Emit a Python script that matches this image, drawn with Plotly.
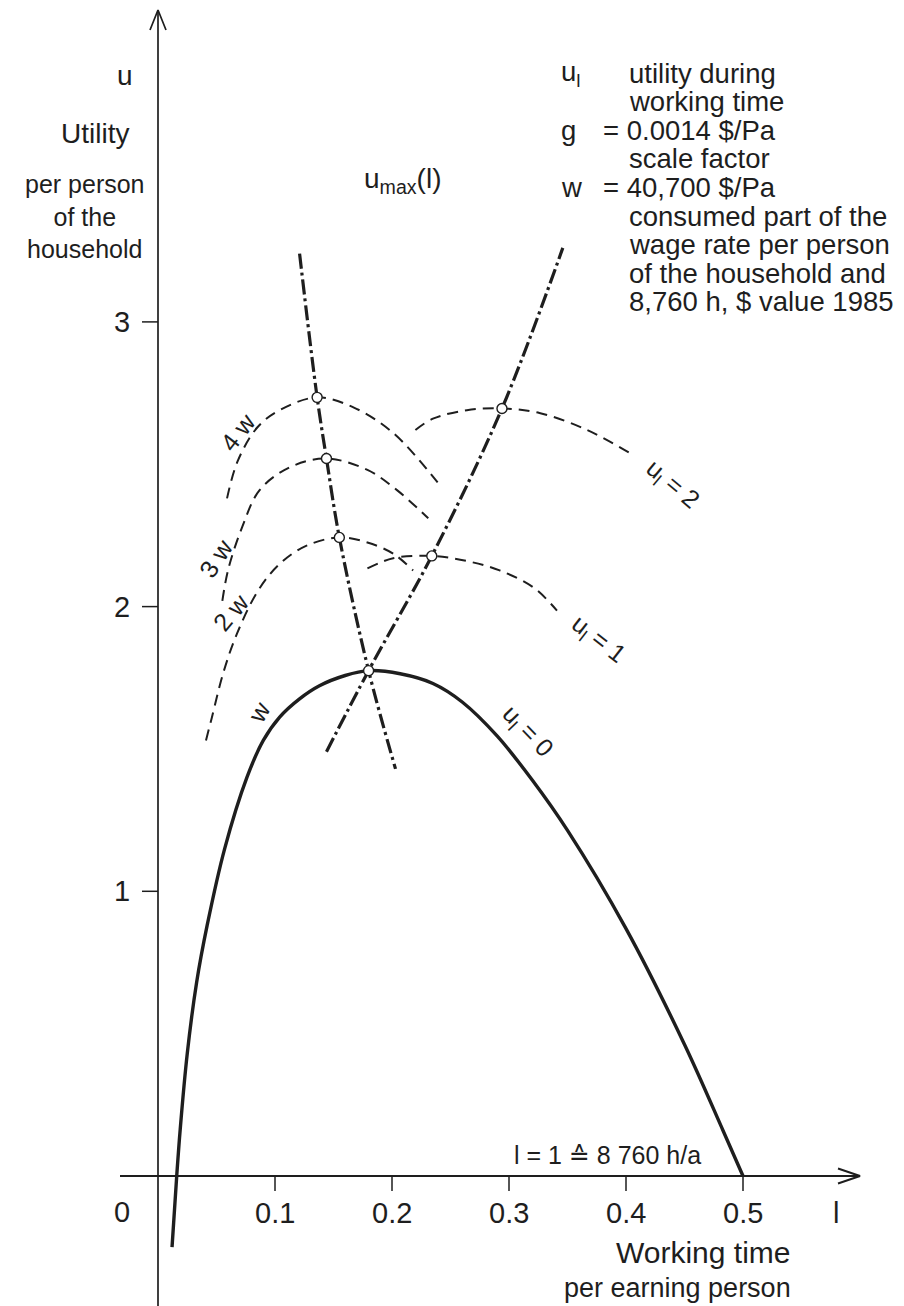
import plotly.graph_objects as go

# ---------------- data ----------------
x_ticks = [0.1, 0.2, 0.3, 0.4, 0.5]
x_tick_labels = ["0.1", "0.2", "0.3", "0.4", "0.5"]
y_ticks = [1, 2, 3]
y_tick_labels = ["1", "2", "3"]

# u_l = 0, wage rate w (solid)
w_l = [0.012, 0.016, 0.019, 0.025, 0.033, 0.042, 0.057, 0.076, 0.090, 0.104, 0.121, 0.138,
       0.160, 0.180, 0.207, 0.235, 0.260, 0.290, 0.320, 0.350, 0.400, 0.450, 0.483, 0.500]
w_u = [-0.25, 0.0, 0.165, 0.43, 0.68, 0.88, 1.15, 1.40, 1.53, 1.612, 1.676, 1.722,
       1.758, 1.775, 1.764, 1.73, 1.665, 1.545, 1.39, 1.214, 0.869, 0.462, 0.159, 0.0]

# 2w, 3w, 4w (dashed)
w2_l = [0.041, 0.046, 0.056, 0.0675, 0.0855, 0.104, 0.127, 0.155, 0.179, 0.201, 0.218]
w2_u = [1.53, 1.61, 1.77, 1.905, 2.056, 2.15, 2.214, 2.243, 2.225, 2.186, 2.127]
w3_l = [0.055, 0.060, 0.072, 0.087, 0.113, 0.144, 0.179, 0.204, 0.231]
w3_u = [2.02, 2.13, 2.28, 2.41, 2.49, 2.52, 2.48, 2.41, 2.31]
w4_l = [0.059, 0.068, 0.085, 0.104, 0.136, 0.167, 0.201, 0.239]
w4_u = [2.38, 2.51, 2.63, 2.69, 2.735, 2.70, 2.61, 2.436]

# u_l = 1, u_l = 2 (dashed)
ul1_l = [0.179, 0.201, 0.234, 0.264, 0.292, 0.321, 0.341]
ul1_u = [2.134, 2.17, 2.178, 2.16, 2.127, 2.067, 1.986]
ul2_l = [0.220, 0.235, 0.264, 0.294, 0.326, 0.367, 0.403]
ul2_u = [2.62, 2.66, 2.69, 2.696, 2.68, 2.62, 2.54]

# loci (dash-dot)
umax_l = [0.121, 0.136, 0.144, 0.155, 0.180, 0.203]
umax_u = [3.24, 2.735, 2.52, 2.243, 1.775, 1.43]
opt_l = [0.144, 0.180, 0.234, 0.294, 0.346]
opt_u = [1.49, 1.775, 2.178, 2.696, 3.26]

# marked optima (circles)
pts_l = [0.136, 0.144, 0.155, 0.180, 0.234, 0.294]
pts_u = [2.735, 2.52, 2.243, 1.775, 2.178, 2.696]

# ---------------- geometry ----------------
W, H = 904, 1306
X0_PX, X_SC = 158.0, 1170.0
Y0_PX, Y_SC = 1176.0, 284.7
def dx(px):
    return px / X_SC
def dy(px):
    return px / Y_SC
x_range = [(0 - X0_PX) / X_SC, (W - X0_PX) / X_SC]
y_range = [(Y0_PX - H) / Y_SC, Y0_PX / Y_SC]

x_axis_end = 0.6
y_axis_end = (Y0_PX - 10) / Y_SC

INK = "#1e1e1e"
FONT = "Liberation Sans, Arial, DejaVu Sans, sans-serif"

fig = go.Figure()

def line(x, y, width, dash="solid", shape="linear", color=INK):
    fig.add_trace(go.Scatter(x=x, y=y, mode="lines", hoverinfo="skip",
                             line=dict(color=color, width=width, dash=dash, shape=shape,
                                       smoothing=1.0)))

# axes
line([x_range[0] + dx(120), x_axis_end], [0, 0], 2.0)
line([x_axis_end - dx(22), x_axis_end, x_axis_end - dx(22)], [dy(7.5), 0, -dy(7.5)], 2.0)
line([0, 0], [y_range[0], y_axis_end], 1.7)
line([-dx(8), 0, dx(8)], [y_axis_end - dy(20), y_axis_end, y_axis_end - dy(20)], 1.7)
for t in x_ticks:
    line([t, t], [0, -dy(15)], 1.5)
for t in y_ticks:
    line([-dx(16), 0], [t, t], 1.5)

DASH = "11px,7px"
DASHDOT = "15px,4px,3px,4px"

line(w2_l, w2_u, 2.0, DASH, "spline")
line(w3_l, w3_u, 2.0, DASH, "spline")
line(w4_l, w4_u, 2.0, DASH, "spline")
line(ul1_l, ul1_u, 2.0, DASH, "spline")
line(ul2_l, ul2_u, 2.0, DASH, "spline")
line(umax_l, umax_u, 3.2, DASHDOT, "spline")
line(opt_l, opt_u, 3.2, DASHDOT, "spline")
line(w_l, w_u, 3.4, "solid", "spline")

fig.add_trace(go.Scatter(x=pts_l, y=pts_u, mode="markers", hoverinfo="skip",
                         marker=dict(size=10, color="white", line=dict(color=INK, width=1.4))))

ann = []
def text(x, y, s, size, xanchor="center", yanchor="middle", angle=0, align="left"):
    ann.append(dict(x=x, y=y, xref="x", yref="y", text=s, showarrow=False,
                    xanchor=xanchor, yanchor=yanchor, textangle=angle, align=align,
                    font=dict(family=FONT, size=size, color=INK)))

# tick labels
for t, s in zip(x_ticks, x_tick_labels):
    text(t, -dy(37), s, 29)
for t, s in zip(y_ticks, y_tick_labels):
    text(-dx(26), t, s, 29, xanchor="right")
text(-dx(36), -dy(36), "0", 29)
text(dx(836 - X0_PX), -dy(37), "l", 29)

# axis titles
text(dx(125 - X0_PX), dy(Y0_PX - 75), "u", 28)
text(dx(95 - X0_PX), dy(Y0_PX - 133), "Utility", 28)
text(dx(85 - X0_PX), dy(Y0_PX - 216), "per person<br>of the<br>household", 25, align="center")
text(dx(793 - X0_PX), -dy(1252 - Y0_PX), "Working time", 30, xanchor="right")
text(dx(793 - X0_PX), -dy(1288 - Y0_PX), "per earning person", 27, xanchor="right")
text(dx(703 - X0_PX), dy(Y0_PX - 1155), "l = 1 \u2259 8 760 h/a", 25, xanchor="right")

# legend block (top right)
rows = [("u<sub>l</sub>", "utility during"), ("", "working time"),
        ("g", "= 0.0014 $/Pa"), ("", "scale factor"),
        ("w", "= 40,700 $/Pa"), ("", "consumed part of the"),
        ("", "wage rate per person"), ("", "of the household and"),
        ("", "8,760 h, $ value 1985")]
for i, (k, v) in enumerate(rows):
    ypx = 73 + 28.6 * i
    if k:
        text(dx(559 - X0_PX), dy(Y0_PX - ypx), k, 27.5, xanchor="left")
    xl = 601 if v.startswith("=") else 627
    text(dx(xl - X0_PX), dy(Y0_PX - ypx), v, 27.5, xanchor="left")

text(dx(362 - X0_PX), dy(Y0_PX - 180), "u<sub>max</sub>(l)", 28, xanchor="left")

# curve labels
text(dx(238 - X0_PX), dy(Y0_PX - 432), "4 w", 25, angle=-52)
text(dx(216 - X0_PX), dy(Y0_PX - 558), "3 w", 25, angle=-57)
text(dx(231 - X0_PX), dy(Y0_PX - 612), "2 w", 25, angle=-50)
text(dx(259 - X0_PX), dy(Y0_PX - 712), "w", 25, angle=-60)
text(dx(527 - X0_PX), dy(Y0_PX - 732), "u<sub>l</sub> = 0", 25, angle=46)
text(dx(598 - X0_PX), dy(Y0_PX - 640), "u<sub>l</sub> = 1", 25, angle=38)
text(dx(672 - X0_PX), dy(Y0_PX - 485), "u<sub>l</sub> = 2", 25, angle=40)

fig.update_layout(
    width=W, height=H, margin=dict(l=0, r=0, t=0, b=0),
    paper_bgcolor="white", plot_bgcolor="white", showlegend=False,
    xaxis=dict(range=x_range, visible=False, fixedrange=True),
    yaxis=dict(range=y_range, visible=False, fixedrange=True),
    annotations=ann,
)

fig.write_html("out.html", config={"displayModeBar": False},
               post_script="document.body.style.margin='0';document.body.style.overflow='hidden';")
